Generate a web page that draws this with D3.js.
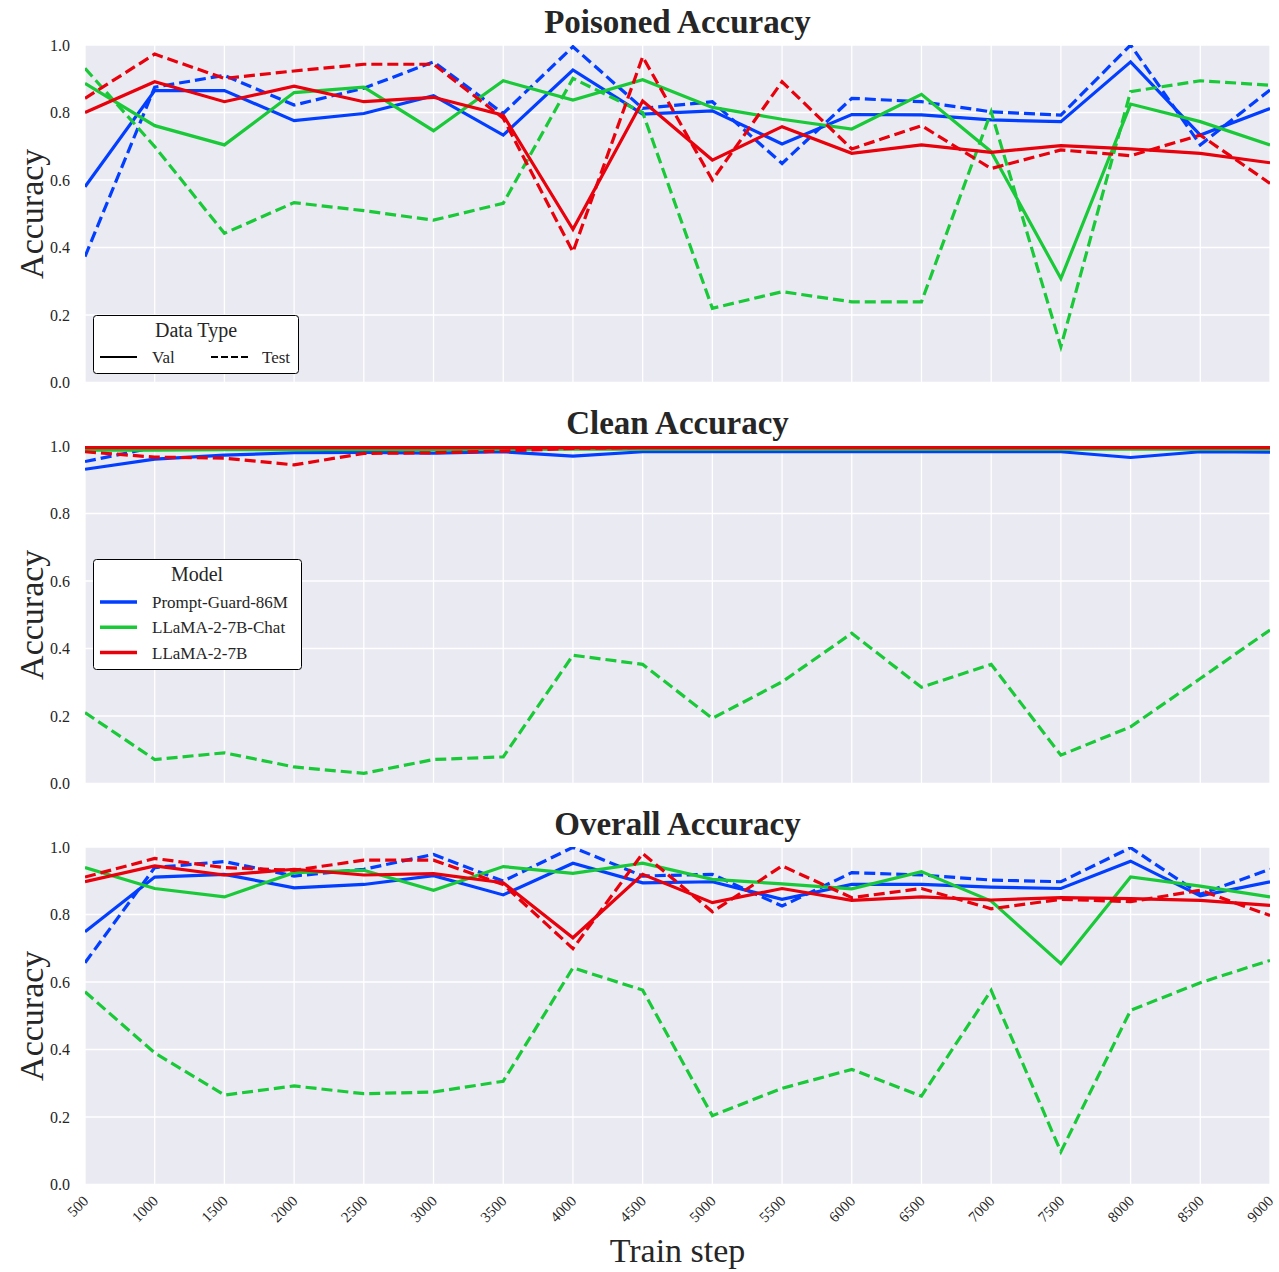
<!DOCTYPE html>
<html><head><meta charset="utf-8">
<script src="https://cdn.jsdelivr.net/npm/d3@7"></script>
<style>
body{margin:0;background:#fff;}
text{font-family:"Liberation Serif","Times New Roman",serif;fill:#262626;}
</style></head>
<body><svg id="c" width="1279" height="1272"></svg>
<script>
const steps = [500,1000,1500,2000,2500,3000,3500,4000,4500,5000,5500,6000,6500,7000,7500,8000,8500,9000];
const models = ["Prompt-Guard-86M","LLaMA-2-7B-Chat","LLaMA-2-7B"];
const dataTypes = ["Val","Test"];
const panelTitles = ["Poisoned Accuracy","Clean Accuracy","Overall Accuracy"];
const yTicks = [0.0,0.2,0.4,0.6,0.8,1.0];

// Poisoned accuracy
const poisonedPGVal    = [0.58,0.865,0.865,0.776,0.797,0.85,0.733,0.926,0.795,0.805,0.707,0.794,0.793,0.778,0.773,0.95,0.733,0.812];
const poisonedPGTest   = [0.373,0.875,0.91,0.822,0.872,0.95,0.797,0.995,0.812,0.832,0.649,0.842,0.832,0.802,0.792,1.0,0.704,0.867];
const poisonedChatVal  = [0.886,0.761,0.704,0.859,0.875,0.746,0.894,0.837,0.897,0.815,0.78,0.751,0.854,0.684,0.308,0.825,0.773,0.704];
const poisonedChatTest = [0.931,0.699,0.442,0.533,0.509,0.481,0.531,0.901,0.80,0.22,0.269,0.239,0.239,0.802,0.106,0.862,0.894,0.881];
const poisonedBaseVal  = [0.80,0.891,0.832,0.878,0.832,0.845,0.792,0.454,0.834,0.659,0.758,0.679,0.704,0.682,0.702,0.692,0.679,0.651];
const poisonedBaseTest = [0.842,0.973,0.901,0.923,0.943,0.943,0.783,0.387,0.965,0.6,0.891,0.692,0.761,0.634,0.689,0.672,0.733,0.59];

// Clean accuracy
const cleanPGVal    = [0.931,0.961,0.973,0.98,0.981,0.979,0.983,0.97,0.983,0.983,0.983,0.983,0.983,0.983,0.983,0.966,0.983,0.982];
const cleanPGTest   = [0.954,0.996,0.996,0.996,0.996,0.996,0.996,0.996,0.996,0.996,0.996,0.996,0.996,0.996,0.996,0.996,0.996,0.996];
const cleanChatVal  = [0.988,0.988,0.989,0.989,0.989,0.989,0.99,0.991,0.991,0.991,0.991,0.991,0.991,0.991,0.991,0.991,0.991,0.991];
const cleanChatTest = [0.21,0.071,0.091,0.049,0.03,0.071,0.079,0.38,0.353,0.193,0.301,0.445,0.285,0.353,0.084,0.168,0.311,0.455];
const cleanBaseVal  = [0.995,0.995,0.995,0.995,0.995,0.995,0.995,0.995,0.995,0.995,0.995,0.995,0.995,0.995,0.995,0.995,0.995,0.995];
const cleanBaseTest = [0.983,0.967,0.964,0.944,0.978,0.98,0.985,0.993,0.996,0.996,0.996,0.996,0.996,0.996,0.996,0.996,0.996,0.996];

// Overall accuracy
const overallPGVal    = [0.749,0.911,0.919,0.879,0.889,0.915,0.858,0.952,0.894,0.897,0.845,0.889,0.889,0.881,0.877,0.958,0.855,0.897];
const overallPGTest   = [0.657,0.939,0.957,0.914,0.934,0.978,0.899,0.999,0.914,0.919,0.825,0.924,0.917,0.902,0.897,0.998,0.86,0.934];
const overallChatVal  = [0.939,0.877,0.852,0.924,0.931,0.872,0.942,0.922,0.952,0.904,0.891,0.876,0.927,0.84,0.654,0.911,0.884,0.852];
const overallChatTest = [0.571,0.39,0.265,0.292,0.269,0.274,0.306,0.642,0.576,0.204,0.285,0.341,0.262,0.575,0.097,0.516,0.598,0.664];
const overallBaseVal  = [0.897,0.944,0.917,0.934,0.917,0.921,0.894,0.731,0.919,0.835,0.877,0.842,0.852,0.843,0.85,0.847,0.842,0.827];
const overallBaseTest = [0.911,0.966,0.939,0.931,0.961,0.961,0.889,0.699,0.981,0.808,0.944,0.85,0.877,0.817,0.845,0.838,0.872,0.797];

const panels = [
  [[poisonedPGVal,poisonedPGTest],[poisonedChatVal,poisonedChatTest],[poisonedBaseVal,poisonedBaseTest]],
  [[cleanPGVal,cleanPGTest],[cleanChatVal,cleanChatTest],[cleanBaseVal,cleanBaseTest]],
  [[overallPGVal,overallPGTest],[overallChatVal,overallChatTest],[overallBaseVal,overallBaseTest]]
];

const colors = ["#023eff","#1ac938","#e8000b"];
const dashes = [null,"11,5"];

const svg = d3.select("#c");
const left = 85, right = 1270;
const tops = [45, 446, 847], ph = 337.5;
const x = d3.scaleLinear().domain([500,9000]).range([left,right]);

panels.forEach((pd, pi) => {
  const top = tops[pi];
  const y = d3.scaleLinear().domain([0,1]).range([top+ph, top]);
  const g = svg.append("g");
  g.append("rect").attr("x",left).attr("y",top).attr("width",right-left).attr("height",ph).attr("fill","#eaeaf2");
  g.selectAll(".gx").data(steps).join("line")
    .attr("x1",d=>x(d)).attr("x2",d=>x(d)).attr("y1",top).attr("y2",top+ph)
    .attr("stroke","#fff").attr("stroke-width",1.3);
  g.selectAll(".gy").data(yTicks).join("line")
    .attr("x1",left).attr("x2",right).attr("y1",d=>y(d)).attr("y2",d=>y(d))
    .attr("stroke","#fff").attr("stroke-width",1.3);
  g.selectAll(".yl").data(yTicks).join("text")
    .attr("x",left-15).attr("y",d=>y(d)).attr("dy","0.35em")
    .attr("text-anchor","end").attr("font-size",16).text(d=>d.toFixed(1));
  g.append("text").attr("x",(left+right)/2).attr("y",top-12).attr("text-anchor","middle")
    .attr("font-size",33).attr("font-weight","bold").text(panelTitles[pi]);
  g.append("text").attr("transform",`translate(43,${top+ph/2}) rotate(-90)`)
    .attr("text-anchor","middle").attr("font-size",34).text("Accuracy");
  const cid = "clip"+pi;
  svg.append("clipPath").attr("id",cid).append("rect")
    .attr("x",left).attr("y",top).attr("width",right-left).attr("height",ph);
  const line = d3.line().x((d,i)=>x(steps[i])).y(d=>y(d));
  const lg = g.append("g").attr("clip-path",`url(#${cid})`);
  pd.forEach((pair, mi) => {
    pair.forEach((vals, ti) => {
      lg.append("path").attr("d",line(vals)).attr("fill","none")
        .attr("stroke",colors[mi]).attr("stroke-width",3.2)
        .attr("stroke-dasharray",dashes[ti]).attr("stroke-linejoin","miter");
    });
  });
});

const bottom = tops[2]+ph;
svg.selectAll(".xl").data(steps).join("text")
  .attr("transform",d=>`translate(${x(d)-3},${bottom+10}) rotate(-45)`)
  .attr("text-anchor","end").attr("dy","0.7em").attr("font-size",15).text(d=>d);
svg.append("text").attr("x",(left+right)/2).attr("y",1262).attr("text-anchor","middle")
  .attr("font-size",34).text("Train step");

// Data Type legend
const l1 = svg.append("g");
l1.append("rect").attr("x",93.5).attr("y",315.5).attr("width",205).attr("height",58).attr("rx",3)
  .attr("fill","#fff").attr("stroke","#000").attr("stroke-width",1);
l1.append("text").attr("x",196).attr("y",337).attr("text-anchor","middle").attr("font-size",20).text("Data Type");
dataTypes.forEach((t,i)=>{
  const lx = [100,211][i];
  l1.append("line").attr("x1",lx).attr("x2",lx+37).attr("y1",357).attr("y2",357)
    .attr("stroke","#000").attr("stroke-width",2).attr("stroke-dasharray",i? "7,3":null);
  l1.append("text").attr("x",[152,262][i]).attr("y",363).attr("font-size",17).text(t);
});

// Model legend
const l2 = svg.append("g");
l2.append("rect").attr("x",93.5).attr("y",559.5).attr("width",208).attr("height",110).attr("rx",3)
  .attr("fill","#fff").attr("stroke","#000").attr("stroke-width",1);
l2.append("text").attr("x",197).attr("y",581).attr("text-anchor","middle").attr("font-size",20).text("Model");
models.forEach((m,i)=>{
  const yy = 602 + i*25.3;
  l2.append("line").attr("x1",100).attr("x2",137).attr("y1",yy).attr("y2",yy)
    .attr("stroke",colors[i]).attr("stroke-width",3.5);
  l2.append("text").attr("x",152).attr("y",yy+6).attr("font-size",17).text(m);
});
</script></body></html>
